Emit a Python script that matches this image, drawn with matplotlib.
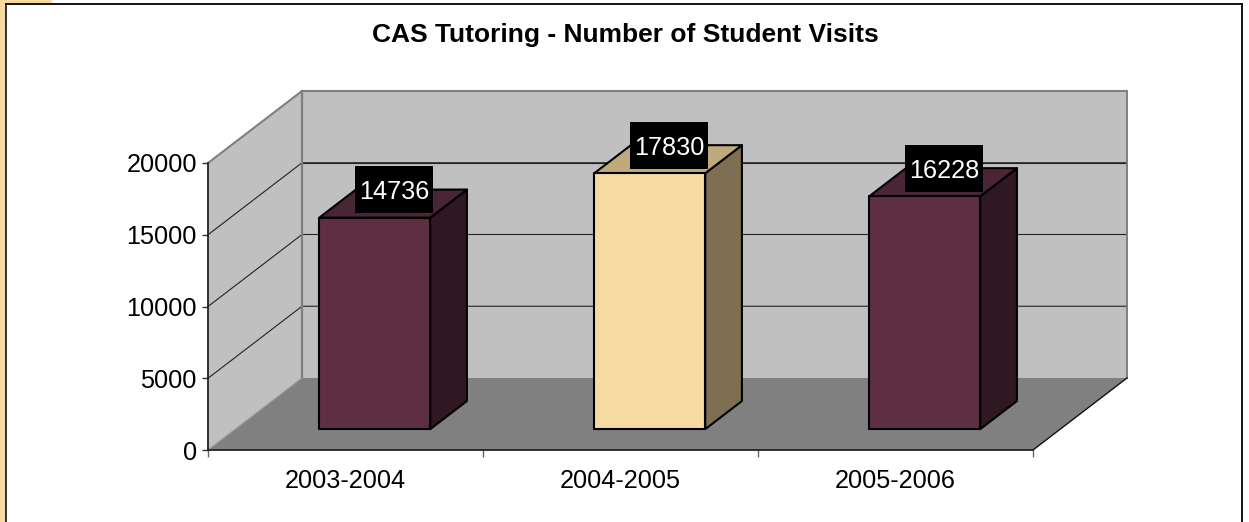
import matplotlib
matplotlib.use("Agg")
import matplotlib.pyplot as plt
from matplotlib.patches import Polygon, Rectangle

plt.rcParams['font.family'] = ['Liberation Sans', 'DejaVu Sans']

categories = ['2003-2004', '2004-2005', '2005-2006']
visits = [14736, 17830, 16228]
y_ticks = [0, 5000, 10000, 15000, 20000]
title = 'CAS Tutoring - Number of Student Visits'

W, H = 1249, 522
fig = plt.figure(figsize=(W / 100, H / 100), dpi=100, facecolor='white')

# decoration of the page: tan strip and frame
fig.patches.append(Rectangle((0, 0), 6 / W, 1, transform=fig.transFigure, fc='#F5D9A0', ec='none'))
fig.patches.append(Rectangle((0, 1 - 3 / H), 52 / W, 3 / H, transform=fig.transFigure, fc='#F5D9A0', ec='none'))
fig.add_artist(plt.Line2D([6 / W, 6 / W], [0, 1 - 3.5 / H], color='#222222', lw=1.3, transform=fig.transFigure))
fig.add_artist(plt.Line2D([6 / W, 1242 / W], [1 - 3.5 / H, 1 - 3.5 / H], color='black', lw=1.3, transform=fig.transFigure))
fig.add_artist(plt.Line2D([1242 / W, 1242 / W], [0, 1 - 3.5 / H], color='black', lw=1.3, transform=fig.transFigure))

ax = fig.add_axes([208 / W, 1 - 450 / H, 825 / W, 287 / H])
ax.set_xlim(0, 3)
ax.set_ylim(0, 20000)
ax.patch.set_alpha(0)

# oblique projection: depth d in 0..1 shifts x and y
DX = 94 / 275
DY = 72 / 287 * 20000


def P(x, y, d=0.0):
    return (x + DX * d, y + DY * d)


top = y_ticks[-1]
WALL, FLOOR, EDGE = '#C0C0C0', '#808080', '#7F7F7F'
ax.add_patch(Polygon([P(0, 0), P(0, top), P(0, top, 1), P(0, 0, 1)], fc=WALL, ec='none', clip_on=False, zorder=1))
ax.add_patch(Polygon([P(0, 0, 1), P(0, top, 1), P(3, top, 1), P(3, 0, 1)], fc=WALL, ec='none', clip_on=False, zorder=1))
ax.add_patch(Polygon([P(0, 0), P(3, 0), P(3, 0, 1), P(0, 0, 1)], fc=FLOOR, ec='none', clip_on=False, zorder=2))

for v in y_ticks[1:-1]:
    a, b, c = P(0, v), P(0, v, 1), P(3, v, 1)
    ax.plot([a[0], b[0], c[0]], [a[1], b[1], c[1]], color='#222222', lw=0.8, clip_on=False, zorder=2)
# back wall line drawn at the front top height
ax.plot([DX, 3 + DX], [top, top], color='#222222', lw=0.8, clip_on=False, zorder=2)
# wall outlines
ax.plot([DX, DX], [DY, top + DY], color=EDGE, lw=1.6, clip_on=False, zorder=2)
ax.plot([3 + DX, 3 + DX], [DY, top + DY], color=EDGE, lw=1.4, clip_on=False, zorder=2)
ax.plot([0, DX, 3 + DX], [top, top + DY, top + DY], color=EDGE, lw=1.5, clip_on=False, zorder=2)
ax.plot([0, DX], [0, DY], color='#999999', lw=0.8, clip_on=False, zorder=3)
ax.plot([3, 3 + DX], [0, DY], color='#111111', lw=1.0, clip_on=False, zorder=3)

# bars
D0, D1 = 0.29, 0.68
BW = 111 / 275
SHIFT = 2 / 275
styles = [('#5E2F43', '#4A2535', '#2F1821'), ('#F6DAA2', '#BFA97D', '#7E6F53'), ('#5E2F43', '#4A2535', '#2F1821')]
for i, (val, (front, roof, side)) in enumerate(zip(visits, styles)):
    x0 = i + 0.5 - BW / 2 + SHIFT
    x1 = x0 + BW
    kw = dict(ec='black', lw=1.5, clip_on=False, zorder=4, joinstyle='round')
    ax.add_patch(Polygon([P(x1, 0, D0), P(x1, val, D0), P(x1, val, D1), P(x1, 0, D1)], fc=side, **kw))
    ax.add_patch(Polygon([P(x0, val, D0), P(x1, val, D0), P(x1, val, D1), P(x0, val, D1)], fc=roof, **kw))
    ax.add_patch(Polygon([P(x0, 0, D0), P(x1, 0, D0), P(x1, val, D0), P(x0, val, D0)], fc=front, **kw))
    # data label
    cx, cy = P((x0 + x1) / 2, val, (D0 + D1) / 2)
    cx += 1 / 275
    cy += 14 / 287 * 20000
    bw, bh = 78 / 275, 47 / 287 * 20000
    ax.add_patch(Rectangle((cx - bw / 2, cy - bh / 2), bw, bh, fc='black', ec='none', clip_on=False, zorder=5))
    ax.text(cx, cy, str(val), color='white', fontsize=18.2, ha='center', va='center_baseline', zorder=6, clip_on=False)

for s in ['top', 'right']:
    ax.spines[s].set_visible(False)
for s in ['left', 'bottom']:
    ax.spines[s].set_color('#222222')
    ax.spines[s].set_linewidth(1.3)
    ax.spines[s].set_zorder(7)

ax.set_yticks(y_ticks)
ax.tick_params(axis='y', length=4.5, width=1.0, color='#333333', labelsize=18.2, pad=3.5)
ax.set_xticks([0, 1, 2, 3])
ax.set_xticklabels([])
ax.tick_params(axis='x', which='major', length=5, width=1.0, color='#666666')
ax.set_xticks([0.5, 1.5, 2.5], minor=True)
ax.set_xticklabels(categories, minor=True, fontsize=18.2)
ax.tick_params(axis='x', which='minor', length=0, pad=13.5)

fig.text(625 / W, 1 - 35 / H, title, fontsize=19, fontweight='bold', ha='center', va='center')

fig.savefig('out.png', dpi=100)
